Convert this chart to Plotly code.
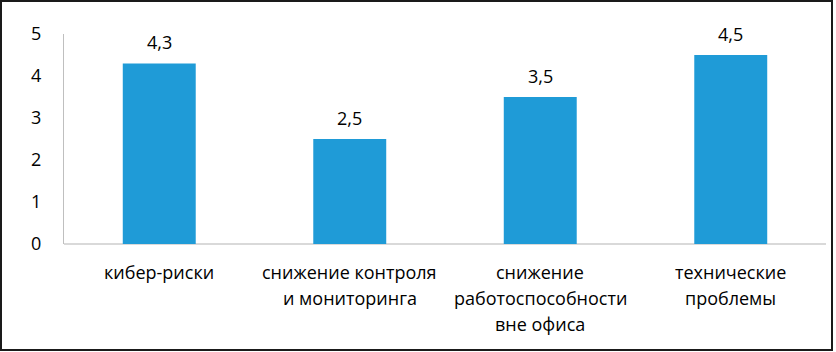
import plotly.graph_objects as go

categories = ["кибер-риски", "снижение контроля<br>и мониторинга", "снижение<br>работоспособности<br>вне офиса", "технические<br>проблемы"]
values = [4.3, 2.5, 3.5, 4.5]
value_labels = ["4,3", "2,5", "3,5", "4,5"]
y_ticks = [0, 1, 2, 3, 4, 5]

FONT = "Open Sans"
FS = 18
W, H = 836, 352
L, T = 64, 34
plot_right, plot_bottom = 826, 244
R, B = W - plot_right, H - plot_bottom
pw = plot_right - L
ph = plot_bottom - T

fig = go.Figure()
fig.add_trace(go.Bar(
    x=list(range(len(categories))), y=values,
    marker=dict(color="#1F9BD7", line=dict(width=0)),
    width=0.383,
    hoverinfo="skip",
))

annotations = []
for i, (v, lab) in enumerate(zip(values, value_labels)):
    annotations.append(dict(x=i, y=v, xref="x", yref="y", text=lab, showarrow=False,
                            yanchor="middle", yshift=21,
                            font=dict(family=FONT, size=FS, color="#000000")))
for i, cat in enumerate(categories):
    for j, line in enumerate(cat.split("<br>")):
        annotations.append(dict(x=i, y=0, xref="x", yref="y", text=line, showarrow=False,
                                yanchor="middle", yshift=-(28 + j * 26),
                                font=dict(family=FONT, size=FS, color="#000000")))

fig.update_layout(
    width=W, height=H,
    margin=dict(l=L, r=R, t=T, b=B),
    paper_bgcolor="white", plot_bgcolor="white",
    showlegend=False,
    annotations=annotations,
    xaxis=dict(range=[-0.5, len(categories) - 0.5], showticklabels=False, ticks="",
               showgrid=False, zeroline=False, showline=False),
    yaxis=dict(range=[0, 5], tickvals=y_ticks, ticktext=[str(t) for t in y_ticks],
               showgrid=False, zeroline=True, zerolinecolor="#D9D9D9", zerolinewidth=1.5,
               showline=True, linecolor="#BFBFBF", linewidth=1, ticks="",
               ticklabelstandoff=18,
               tickfont=dict(family=FONT, size=FS, color="#000000")),
    shapes=[dict(type="rect", xref="paper", yref="paper",
                 x0=(1 - L) / pw, x1=(832 - L) / pw,
                 y0=(plot_bottom - 350) / ph, y1=(plot_bottom - 1) / ph,
                 line=dict(color="#1A1A1A", width=2), fillcolor="rgba(0,0,0,0)", layer="above")],
)

fig.write_html("out.html", config={"displayModeBar": False, "staticPlot": True},
               post_script="document.body.style.margin='0';document.body.style.overflow='hidden';")
